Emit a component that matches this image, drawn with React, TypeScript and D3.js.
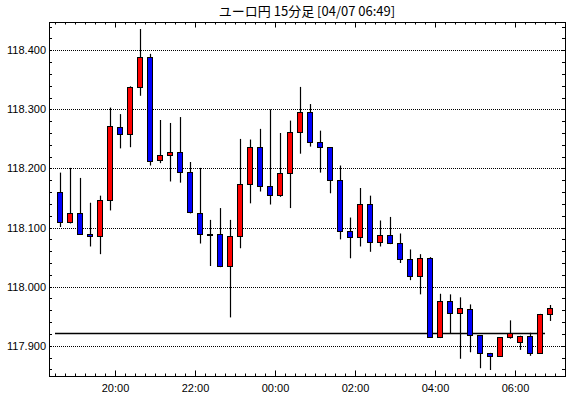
import React from 'react'
import * as d3 from 'd3'

// 15-minute candles, 04/06 18:30 -> 04/07 06:45
const opens = [
  118.16, 118.109, 118.124, 118.089, 118.086, 118.147, 118.27, 118.259, 118.338, 118.388,
  118.214, 118.223, 118.228, 118.194, 118.125, 118.089, 118.089, 118.035, 118.086, 118.174,
  118.236, 118.17, 118.155, 118.192, 118.261, 118.295, 118.245, 118.236, 118.18, 118.094,
  118.084, 118.14, 118.076, 118.088, 118.074, 118.047, 118.018, 118.049, 117.915, 117.976,
  117.956, 117.963, 117.918, 117.887, 117.883, 117.914, 117.907, 117.917, 117.888, 117.954,
]
const highs = [
  118.193, 118.201, 118.184, 118.142, 118.154, 118.303, 118.292, 118.339, 118.436, 118.394,
  118.282, 118.277, 118.287, 118.211, 118.201, 118.113, 118.133, 118.113, 118.25, 118.249,
  118.267, 118.3, 118.26, 118.281, 118.338, 118.309, 118.264, 118.236, 118.205, 118.117,
  118.167, 118.154, 118.112, 118.118, 118.09, 118.063, 118.055, 118.05, 117.988, 117.987,
  117.982, 117.97, 117.918, 117.888, 117.914, 117.943, 117.917, 117.922, 117.954, 117.969,
]
const lows = [
  118.101, 118.107, 118.088, 118.068, 118.055, 118.129, 118.234, 118.236, 118.323, 118.205,
  118.209, 118.178, 118.176, 118.124, 118.073, 118.035, 118.033, 117.948, 118.065, 118.141,
  118.161, 118.139, 118.152, 118.133, 118.225, 118.237, 118.193, 118.158, 118.08, 118.048,
  118.068, 118.059, 118.068, 118.072, 118.04, 118.011, 117.987, 117.915, 117.913, 117.92,
  117.878, 117.889, 117.862, 117.859, 117.883, 117.912, 117.893, 117.883, 117.887, 117.942,
]
const closes = [
  118.109, 118.124, 118.089, 118.086, 118.147, 118.272, 118.258, 118.338, 118.388, 118.212,
  118.223, 118.228, 118.194, 118.126, 118.089, 118.088, 118.035, 118.086, 118.174, 118.236,
  118.17, 118.155, 118.192, 118.261, 118.295, 118.245, 118.236, 118.18, 118.094, 118.084,
  118.14, 118.076, 118.088, 118.074, 118.047, 118.018, 118.049, 117.915, 117.976, 117.956,
  117.964, 117.918, 117.887, 117.883, 117.914, 117.922, 117.917, 117.888, 117.954, 117.964,
]
const refPrice = 117.922
const gridPrices = [118.4, 118.3, 118.2, 118.1, 118.0, 117.9]
const title = 'ユーロ円 15分足 [04/07 06:49]'

const firstBar = new Date(2020, 3, 6, 18, 30)
const times = d3.timeMinute.every(15)!.range(firstBar, new Date(2020, 3, 7, 7, 0))

const W = 570
const H = 398
const left = 49
const right = 565
const top = 22.5
const bottom = 376.5

export default function App() {
  const x = d3
    .scaleTime()
    .domain([new Date(2020, 3, 6, 18, 21), new Date(2020, 3, 7, 7, 15)])
    .range([left, right])
  const y = d3.scaleLinear().domain([117.848, 118.447]).range([bottom, top])

  const slot = x(d3.timeMinute.offset(firstBar, 15)) - x(firstBar)
  const bodyW = 5

  const xTicks = x.ticks(d3.timeMinute.every(15)!)
  const isMajor = (d: Date) => d.getMinutes() === 0 && d.getHours() % 2 === 0
  const yTicks = y.ticks(30)
  const fmt = d3.timeFormat('%H:%M')

  return (
    <svg
      width={W}
      height={H}
      style={{ position: 'absolute', left: 0, top: 0, background: '#fff' }}
      fontFamily="'Liberation Sans', Arial, sans-serif"
    >
      <rect x={0} y={0} width={W} height={H} fill="#fff" />
      <text
        x={(left + right) / 2}
        y={16}
        textAnchor="middle"
        fontSize={13}
        fontFamily="'Noto Sans CJK JP', sans-serif"
      >
        {title}
      </text>

      {/* grid */}
      {gridPrices.map(p => (
        <g key={p}>
          <line
            x1={left}
            x2={right}
            y1={Math.round(y(p)) + 0.5}
            y2={Math.round(y(p)) + 0.5}
            stroke="#000"
            strokeDasharray="1,1"
          />
          <text x={46} y={y(p) + 4} textAnchor="end" fontSize={11}>
            {p.toFixed(3)}
          </text>
        </g>
      ))}

      {/* y minor ticks */}
      {yTicks.map(t => (
        <g key={t}>
          <line x1={left} x2={left + 3} y1={Math.round(y(t)) + 0.5} y2={Math.round(y(t)) + 0.5} stroke="#000" />
          <line x1={right - 3} x2={right} y1={Math.round(y(t)) + 0.5} y2={Math.round(y(t)) + 0.5} stroke="#000" />
        </g>
      ))}

      {/* x ticks */}
      {xTicks.map(t => {
        const px = Math.round(x(t)) + 0.5
        const major = isMajor(t)
        return (
          <g key={+t}>
            <line x1={px} x2={px} y1={top} y2={top + (major ? 5 : 2)} stroke="#000" />
            <line x1={px} x2={px} y1={bottom} y2={bottom - (major ? 6 : 3)} stroke="#000" />
            {major && (
              <text x={px} y={392} textAnchor="middle" fontSize={11}>
                {fmt(t)}
              </text>
            )}
          </g>
        )
      })}

      {/* reference line */}
      <line
        x1={x(times[0])}
        x2={x(times[times.length - 1])}
        y1={Math.round(y(refPrice)) + 0.5}
        y2={Math.round(y(refPrice)) + 0.5}
        stroke="#000"
        strokeWidth={1.3}
      />

      {/* candles */}
      {times.map((t, i) => {
        const cx = Math.round(x(t) + slot / 2) + 0.5
        const o = opens[i]
        const c = closes[i]
        const up = c >= o
        const yTop = Math.round(y(Math.max(o, c)))
        const yBot = Math.round(y(Math.min(o, c)))
        return (
          <g key={i}>
            <line x1={cx} x2={cx} y1={y(highs[i])} y2={y(lows[i])} stroke="#000" strokeWidth={1.2} />
            <rect
              x={cx - 3}
              y={yTop + 0.5}
              width={bodyW}
              height={Math.max(yBot - yTop, 1)}
              fill={up ? '#ff0000' : '#0000ff'}
              stroke="#000"
              strokeWidth={1}
            />
          </g>
        )
      })}

      {/* frame */}
      <rect x={left + 0.5} y={top} width={right - left} height={bottom - top} fill="none" stroke="#000" />
    </svg>
  )
}
